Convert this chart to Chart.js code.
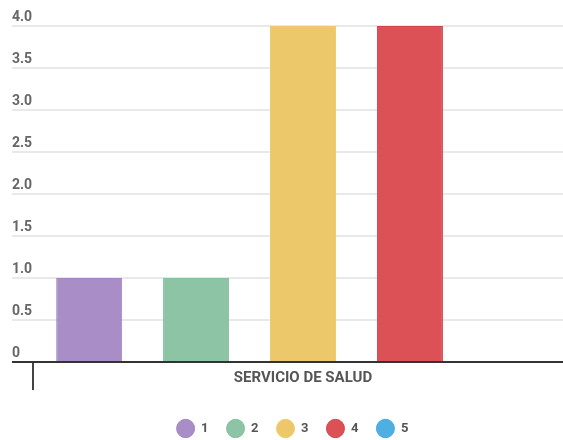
<!DOCTYPE html>
<html>
<head>
<meta charset="utf-8">
<script src="https://cdn.jsdelivr.net/npm/chart.js@4/dist/chart.umd.min.js"></script>
<style>
  html, body { margin: 0; padding: 0; background: #fff; overflow: hidden; }
  #wrap { position: relative; width: 573px; height: 440px; }
</style>
</head>
<body>
<div id="wrap"><canvas id="chart"></canvas></div>
<script>
// Category and series
const categories = ['SERVICIO DE SALUD'];
const seriesNames = ['1', '2', '3', '4', '5'];
const seriesValues = [[1], [1], [4], [4], [0]];
const seriesColors = ['#a98dc7', '#8cc4a5', '#ecc86a', '#dc5156', '#4eafe3'];
const seriesBorders = ['#a386c2', '#86bf9f', '#efcb6e', '#d2464b', '#46a8de'];
const yTicks = [0, 0.5, 1, 1.5, 2, 2.5, 3, 3.5, 4];

const datasets = seriesNames.map((name, i) => ({
  label: name,
  data: seriesValues[i],
  backgroundColor: seriesColors[i],
  borderColor: seriesBorders[i],
  borderWidth: 1,
  barPercentage: 0.617,
  categoryPercentage: 0.99
}));

new Chart(document.getElementById('chart'), {
  type: 'bar',
  data: { labels: categories, datasets },
  options: {
    responsive: true,
    maintainAspectRatio: false,
    animation: false,
    layout: { padding: { left: 12, right: 0, top: 26, bottom: -5 } },
    scales: {
      x: {
        offset: true,
        border: { display: false },
        grid: {
          offset: true,
          drawOnChartArea: false,
          drawTicks: true,
          tickLength: 28,
          color: '#444',
          lineWidth: 2
        },
        ticks: {
          padding: -21,
          color: '#555',
          font: { family: 'Roboto', size: 15, weight: 'bold' }
        },
        // the category label sits inside the tick band, so the axis keeps a fixed height
        afterFit: (scale) => { scale.height = 42; }
      },
      y: {
        min: 0,
        max: 4,
        border: { display: false },
        afterBuildTicks: (scale) => { scale.ticks = yTicks.map(v => ({ value: v })); },
        // labels are drawn above the grid lines, so the axis only needs room for the tick marks
        afterFit: (scale) => { scale.width = 21; },
        grid: {
          drawTicks: true,
          tickLength: 21,
          color: (ctx) => (ctx.tick && ctx.tick.value === 0 ? '#333' : '#e9e9e9'),
          lineWidth: 2
        },
        ticks: {
          crossAlign: 'far',
          padding: 0,
          labelOffset: -9,
          color: '#666',
          font: { family: 'Roboto', size: 14, weight: 'bold' },
          callback: (v) => (v === 0 ? '0' : Number(v).toFixed(1))
        }
      }
    },
    plugins: {
      tooltip: { enabled: false },
      legend: {
        position: 'bottom',
        labels: {
          usePointStyle: true,
          pointStyle: 'circle',
          pointStyleWidth: 18,
          boxHeight: 13,
          padding: 18,
          color: '#555',
          font: { family: 'Roboto', size: 13, weight: 'bold' }
        }
      }
    }
  }
});
</script>
</body>
</html>
